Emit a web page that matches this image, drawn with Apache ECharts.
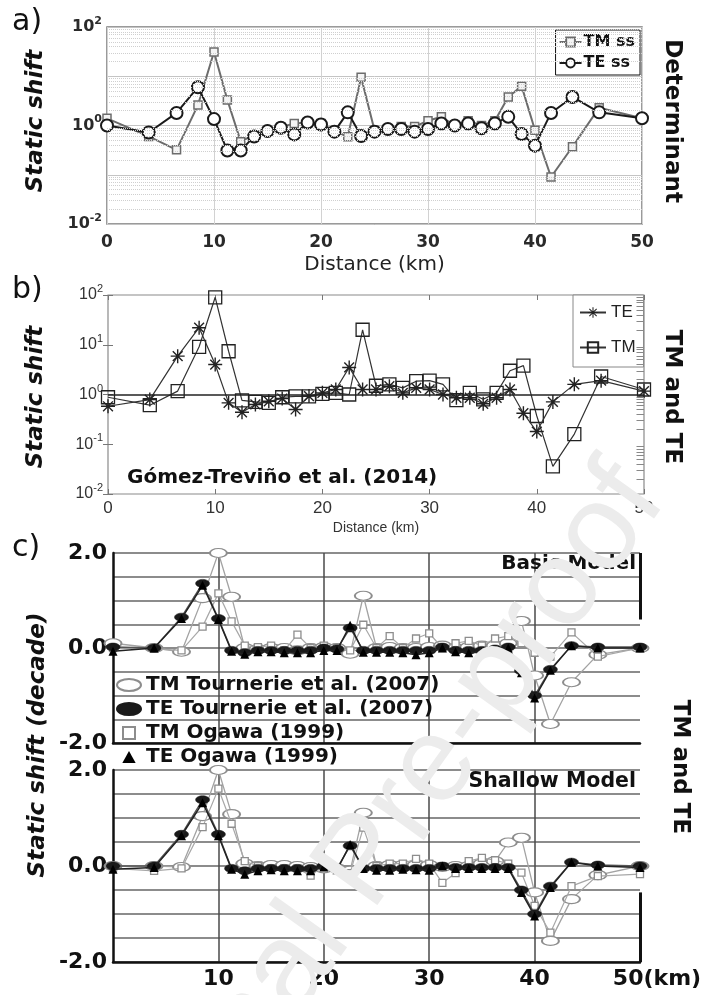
<!DOCTYPE html>
<html>
<head>
<meta charset="utf-8">
<script src="https://cdn.jsdelivr.net/npm/echarts@6/dist/echarts.min.js"></script>
<style>
html, body { margin: 0; padding: 0; background: #fff; }
#chart { width: 710px; height: 995px; }
</style>
</head>
<body>
<div id="chart"></div>
<script>
// Station positions along the profile (km)
const distanceKm = [0, 3.9, 6.5, 8.5, 10, 11.25, 12.5, 13.75, 15, 16.25, 17.5, 18.75, 20, 21.25, 22.5, 23.75, 25, 26.25, 27.5, 28.75, 30, 31.25, 32.5, 33.75, 35, 36.25, 37.5, 38.75, 40, 41.5, 43.5, 46, 50];

// a) determinant static shifts
const detTM = [1.4, 0.6, 0.32, 2.6, 31, 3.3, 0.47, 0.65, 0.8, 0.92, 1.1, 1.15, 1.1, 0.78, 0.59, 9.5, 0.8, 0.85, 0.95, 0.95, 1.25, 1.5, 1.0, 1.25, 1.0, 1.25, 3.8, 6.3, 0.8, 0.09, 0.37, 2.3, 1.4];
const detTE = [1.0, 0.72, 1.8, 6.0, 1.35, 0.31, 0.31, 0.6, 0.77, 0.9, 0.66, 1.15, 1.05, 0.75, 1.85, 0.61, 0.75, 0.85, 0.85, 0.75, 0.85, 1.1, 1.0, 1.1, 0.88, 1.1, 1.5, 0.67, 0.39, 1.8, 3.8, 1.85, 1.4];

// b) Gómez-Treviño et al. (2014)
const gtTE = [0.58, 0.79, 5.9, 22, 4.0, 0.68, 0.44, 0.63, 0.73, 0.83, 0.5, 0.93, 1.08, 1.26, 3.5, 1.26, 1.26, 1.47, 1.08, 1.36, 1.26, 1.0, 0.86, 0.86, 0.65, 0.86, 1.26, 0.42, 0.18, 0.71, 1.6, 1.9, 1.17];
const gtTM = [0.88, 0.61, 1.17, 9.1, 90, 7.4, 0.76, 0.71, 0.68, 0.88, 0.92, 0.92, 1.03, 1.08, 1.0, 20, 1.5, 1.6, 1.36, 1.85, 1.9, 1.6, 0.77, 1.08, 0.8, 1.08, 3.0, 3.8, 0.37, 0.036, 0.16, 2.3, 1.26];

// c) static shift in decades, basic model
const basicTMTournerie = [0.1, 0.0, -0.08, 1.05, 2.0, 1.08, 0.0, -0.02, 0.0, 0.0, -0.05, 0.0, 0.02, 0.0, -0.12, 1.1, 0.0, 0.02, 0.0, 0.0, 0.02, 0.05, 0.0, 0.02, 0.05, 0.05, 0.1, 0.57, -0.58, -1.6, -0.72, -0.14, 0.0];
const basicTMOgawa = [0.0, -0.02, -0.05, 0.45, 1.15, 0.56, 0.05, 0.02, 0.05, -0.05, 0.28, 0.0, 0.05, 0.0, -0.05, 0.49, 0.0, 0.25, 0.0, 0.2, 0.31, 0.0, 0.1, 0.15, 0.05, 0.2, 0.25, 0.1, -0.1, -0.18, 0.33, -0.18, 0.0];
const basicTETournerie = [0.02, 0.0, 0.65, 1.36, 0.62, -0.05, -0.1, -0.05, -0.05, -0.05, -0.05, -0.05, 0.0, -0.02, 0.42, -0.05, -0.05, -0.05, -0.05, -0.05, -0.05, 0.02, -0.05, -0.05, -0.05, -0.02, 0.02, -0.48, -1.0, -0.45, 0.05, 0.02, 0.02];
const basicTEOgawa = [-0.07, 0.0, 0.62, 1.32, 0.6, -0.07, -0.13, -0.08, -0.08, -0.1, -0.1, -0.1, -0.05, -0.05, 0.48, -0.09, -0.09, -0.09, -0.1, -0.14, -0.1, 0.0, -0.08, -0.1, -0.09, -0.05, 0.0, -0.52, -1.05, -0.47, 0.05, 0.0, 0.0];

// c) static shift in decades, shallow model
const shallowTMTournerie = [0.0, 0.0, -0.02, 1.04, 2.0, 1.08, 0.05, 0.0, 0.02, 0.02, 0.0, -0.02, -0.05, -0.05, -0.1, 1.11, 0.0, 0.02, 0.02, 0.02, 0.02, -0.02, 0.0, 0.0, 0.05, 0.1, 0.49, 0.59, -0.55, -1.56, -0.69, -0.19, 0.0];
const shallowTMOgawa = [-0.05, -0.1, -0.05, 0.81, 1.61, 0.88, 0.1, 0.0, -0.05, -0.05, -0.05, -0.2, 0.0, -0.05, -0.15, 0.8, 0.0, 0.05, 0.05, 0.15, 0.05, -0.35, -0.15, 0.1, 0.17, 0.12, 0.05, -0.14, -0.83, -1.39, -0.42, -0.21, -0.17];
const shallowTETournerie = [0.0, 0.0, 0.66, 1.38, 0.66, -0.05, -0.1, -0.05, -0.05, -0.05, -0.05, -0.05, 0.0, -0.05, 0.42, -0.05, -0.05, -0.05, -0.05, -0.05, -0.05, 0.0, -0.03, -0.03, -0.03, -0.03, -0.03, -0.5, -1.0, -0.42, 0.08, 0.02, 0.0];
const shallowTEOgawa = [-0.07, -0.03, 0.63, 1.32, 0.63, -0.07, -0.17, -0.1, -0.08, -0.1, -0.1, -0.1, -0.02, -0.08, 0.45, -0.05, -0.09, -0.09, -0.07, -0.08, -0.09, 0.0, -0.05, -0.05, -0.05, -0.05, -0.05, -0.55, -1.04, -0.45, 0.08, 0.0, -0.03];

// tick labels
const decadeExpA = [-2, 0, 2];
const decadeExpB = [-2, -1, 0, 1, 2];
const decadeYLabels = { '2': '2.0', '0': '0.0', '-2': '-2.0' };
const distXLabels = { '10': '10', '20': '20', '30': '30', '40': '40', '50': '{k|50(km)}' };

const FONT = 'DejaVu Sans';
const ARIAL = 'Liberation Sans';
const pts = ys => distanceKm.map((x, i) => [x, ys[i]]);

// minor decade positions (2..9 x 10^e) for the log grids
const minorLog = [];
for (let e = -2; e < 2; e++) for (let k = 2; k <= 9; k++) minorLog.push(+(k * Math.pow(10, e)).toPrecision(2));

const supLabel = (v, shown) => {
  const e = Math.round(Math.log10(v));
  return shown.includes(e) ? '{b|10}{s|' + e + '}' : '';
};

const ELLIPSE = 'path://M-10,0C-10,-2.76,-5.52,-5,0,-5C5.52,-5,10,-2.76,10,0C10,2.76,5.52,5,0,5C-5.52,5,-10,2.76,-10,0Z';
const SQUARE = 'path://M0,0L10,0L10,10L0,10Z';
const TRIANGLE = 'path://M5,0L10,9L0,9Z';
const STAR = 'path://M-1,-10L1,-10L1,10L-1,10Z M-10,-1L10,-1L10,1L-10,1Z M-6.3,-7.7L7.7,6.3L6.3,7.7L-7.7,-6.3Z M6.3,-7.7L7.7,-6.3L-6.3,7.7L-7.7,6.3Z';

const chart = echarts.init(document.getElementById('chart'), null, { renderer: 'canvas' });

function helper(xi, yi, markLine) {
  return {
    type: 'line', xAxisIndex: xi, yAxisIndex: yi, data: [[0, yi <= 2 ? 1 : 0]],
    symbol: 'none', lineStyle: { opacity: 0 }, silent: true, z: 1,
    markLine: Object.assign({ silent: true, symbol: 'none', label: { show: false }, animation: false }, markLine)
  };
}

function modelSeries(xi, yi, tmT, tmO, teT, teO) {
  return [
    { name: 'TM Tournerie et al. (2007)', type: 'line', xAxisIndex: xi, yAxisIndex: yi, data: pts(tmT), z: 3,
      symbol: ELLIPSE, symbolSize: [17, 9], symbolKeepAspect: false,
      lineStyle: { color: '#a3a3a3', width: 1.3 }, itemStyle: { color: '#fff', borderColor: '#8d8d8d', borderWidth: 1.5 } },
    { name: 'TM Ogawa (1999)', type: 'line', xAxisIndex: xi, yAxisIndex: yi, data: pts(tmO), z: 4,
      symbol: 'rect', symbolSize: 7,
      lineStyle: { color: '#a8a8a8', width: 1.2 }, itemStyle: { color: '#fff', borderColor: '#8d8d8d', borderWidth: 1.3 } },
    { name: 'TE Tournerie et al. (2007)', type: 'line', xAxisIndex: xi, yAxisIndex: yi, data: pts(teT), z: 5,
      symbol: ELLIPSE, symbolSize: [14, 8], symbolKeepAspect: false,
      lineStyle: { color: '#555', width: 1.4 }, itemStyle: { color: '#1a1a1a', borderColor: '#1a1a1a', borderWidth: 0.5 } },
    { name: 'TE Ogawa (1999)', type: 'line', xAxisIndex: xi, yAxisIndex: yi, data: pts(teO), z: 6,
      symbol: 'triangle', symbolSize: 9,
      lineStyle: { color: '#222', width: 1.5 }, itemStyle: { color: '#000' } }
  ];
}

const cYAxis = gi => ({
  gridIndex: gi, type: 'value', min: -2, max: 2, interval: 0.5,
  axisLine: { show: true, onZero: false, lineStyle: { color: '#111', width: 2.5 } },
  axisTick: { show: false },
  axisLabel: { formatter: v => decadeYLabels[String(v)] || '', fontFamily: FONT, fontWeight: 'bold', fontSize: 22, color: '#111', margin: 6 },
  splitLine: { show: true, lineStyle: { color: '#8c8c8c', width: 2 } }
});

const cXAxis = (gi, labels) => ({
  gridIndex: gi, type: 'value', min: 0, max: 50, interval: 10,
  axisLine: { show: true, onZero: false, lineStyle: { color: '#111', width: 2.5 } },
  axisTick: { show: false },
  axisLabel: labels ? {
    show: true, fontFamily: FONT, fontWeight: 'bold', fontSize: 22, color: '#111', margin: 6,
    formatter: v => distXLabels[String(v)] || '',
    rich: { k: { fontFamily: FONT, fontWeight: 'bold', fontSize: 22, color: '#111', padding: [0, 0, 0, 34] } }
  } : { show: false },
  splitLine: { show: true, showMinLine: false, showMaxLine: false, lineStyle: { color: '#4a4a4a', width: 1.5 } }
});

const txt = (text, x, y, o) => Object.assign({
  type: 'text', x: x, y: y, z: 50,
  style: Object.assign({ text: text, fontFamily: FONT, fontSize: 22, fill: '#111',
    align: 'center', verticalAlign: 'middle', textAlign: 'center', textVerticalAlign: 'middle' }, o.style || {})
}, o.el || {});

const option = {
  animation: false,
  backgroundColor: '#fff',
  grid: [
    { left: 107, top: 27, width: 535, height: 197, show: true, borderColor: '#7a7a7a', borderWidth: 1.5, backgroundColor: '#fff' },
    { left: 108, top: 295, width: 536, height: 199, show: true, borderColor: '#8a8a8a', borderWidth: 1.2, backgroundColor: '#fff' },
    { left: 113, top: 553, width: 527, height: 190 },
    { left: 113, top: 770, width: 527, height: 192 }
  ],
  xAxis: [
    { gridIndex: 0, type: 'value', min: 0, max: 50, interval: 10,
      axisLine: { show: false }, axisTick: { show: false },
      axisLabel: { fontFamily: FONT, fontWeight: 'bold', fontSize: 17, color: '#2a2a2a', margin: 10 },
      splitLine: { show: true, lineStyle: { color: '#d2d2d2', width: 1 } },
      name: 'Distance (km)', nameLocation: 'middle', nameGap: 31,
      nameTextStyle: { fontFamily: FONT, fontSize: 20, color: '#222' } },
    { gridIndex: 1, type: 'value', min: 0, max: 50, interval: 10,
      axisLine: { show: false }, axisTick: { show: true, inside: true, length: 5, lineStyle: { color: '#777' } },
      axisLabel: { fontFamily: ARIAL, fontSize: 17, color: '#333', margin: 6 },
      splitLine: { show: false },
      name: 'Distance (km)', nameLocation: 'middle', nameGap: 27,
      nameTextStyle: { fontFamily: ARIAL, fontSize: 14, color: '#333' } },
    { gridIndex: 1, type: 'value', position: 'top', min: 0, max: 50, interval: 10,
      axisLine: { show: false }, axisTick: { show: true, inside: true, length: 5, lineStyle: { color: '#777' } },
      axisLabel: { show: false }, splitLine: { show: false } },
    cXAxis(2, false),
    cXAxis(3, true)
  ],
  yAxis: [
    { gridIndex: 0, type: 'log', logBase: 10, min: 0.01, max: 100,
      axisLine: { show: false }, axisTick: { show: false },
      axisLabel: { formatter: v => supLabel(v, decadeExpA), margin: 5,
        rich: { b: { fontFamily: FONT, fontWeight: 'bold', fontSize: 16, color: '#2a2a2a' },
                s: { fontFamily: FONT, fontWeight: 'bold', fontSize: 11, color: '#2a2a2a', padding: [0, 0, 12, 0] } } },
      splitLine: { show: true, lineStyle: { color: '#c4c4c4', width: 1 } } },
    { gridIndex: 1, type: 'log', logBase: 10, min: 0.01, max: 100,
      axisLine: { show: false }, axisTick: { show: true, inside: true, length: 5, lineStyle: { color: '#777' } },
      axisLabel: { formatter: v => supLabel(v, decadeExpB), margin: 5,
        rich: { b: { fontFamily: ARIAL, fontSize: 16, color: '#333' },
                s: { fontFamily: ARIAL, fontSize: 11, color: '#333', padding: [0, 0, 12, 0] } } },
      splitLine: { show: false } },
    { gridIndex: 1, type: 'log', logBase: 10, min: 0.01, max: 100, position: 'right',
      axisLine: { show: false }, axisTick: { show: true, inside: true, length: 5, lineStyle: { color: '#777' } },
      axisLabel: { show: false }, splitLine: { show: false } },
    cYAxis(2),
    cYAxis(3)
  ],
  legend: [
    { data: ['TM ss', 'TE ss'], orient: 'vertical', right: 70, top: 30, itemGap: 5, padding: [4, 5, 4, 3],
      backgroundColor: '#fff', borderColor: '#111', borderWidth: 1, itemWidth: 22, itemHeight: 11,
      textStyle: { fontFamily: FONT, fontWeight: 'bold', fontSize: 16, color: '#111', padding: [0, 0, 0, -3] } },
    { data: ['TE', 'TM'], orient: 'vertical', left: 573, top: 295, itemGap: 18, padding: [9, 8, 11, 6],
      backgroundColor: '#fff', borderColor: '#888', borderWidth: 1, itemWidth: 26, itemHeight: 13,
      textStyle: { fontFamily: ARIAL, fontSize: 17, color: '#222' } },
    { data: [
        { name: 'TM Tournerie et al. (2007)', icon: ELLIPSE },
        { name: 'TE Tournerie et al. (2007)', icon: ELLIPSE },
        { name: 'TM Ogawa (1999)', icon: SQUARE },
        { name: 'TE Ogawa (1999)', icon: TRIANGLE }
      ],
      orient: 'vertical', left: 116, top: 673, itemGap: 0, itemWidth: 24, itemHeight: 12, padding: 0,
      textStyle: { fontFamily: FONT, fontWeight: 'bold', fontSize: 20, color: '#111', lineHeight: 24 } }
  ],
  series: [
    // a) log-grid minor lines
    helper(0, 0, { lineStyle: { color: '#cfcfcf', type: [1, 1], width: 1 }, data: minorLog.map(v => ({ yAxis: v })) }),
    { name: 'TM ss', type: 'line', xAxisIndex: 0, yAxisIndex: 0, data: pts(detTM), z: 3,
      symbol: 'rect', symbolSize: 8,
      lineStyle: { color: '#6c6c6c', width: 2 }, itemStyle: { color: '#f4f4f4', borderColor: '#6c6c6c', borderWidth: 1.5 } },
    { name: 'TE ss', type: 'line', xAxisIndex: 0, yAxisIndex: 0, data: pts(detTE), z: 4,
      symbol: 'circle', symbolSize: 12,
      lineStyle: { color: '#1a1a1a', width: 2 }, itemStyle: { color: '#fff', borderColor: '#1a1a1a', borderWidth: 2 } },

    // b) reference line at unity and right-edge minor ticks
    helper(1, 1, { lineStyle: { color: '#222', type: 'solid', width: 1.5 }, data: [{ yAxis: 1 }] }),
    helper(1, 1, { lineStyle: { color: '#888', type: 'solid', width: 1 },
      data: minorLog.map(v => [{ coord: [49.3, v] }, { coord: [50, v] }]) }),
    { name: 'TE', type: 'line', xAxisIndex: 1, yAxisIndex: 1, data: pts(gtTE), z: 4,
      symbol: STAR, symbolSize: 14,
      lineStyle: { color: '#333', width: 1.2 }, itemStyle: { color: '#222', borderWidth: 0 } },
    { name: 'TM', type: 'line', xAxisIndex: 1, yAxisIndex: 1, data: pts(gtTM), z: 3,
      symbol: 'rect', symbolSize: 13,
      lineStyle: { color: '#333', width: 1.2 }, itemStyle: { color: 'rgba(255,255,255,0)', borderColor: '#222', borderWidth: 1.3 } },

    // c) partial right frame
    helper(3, 3, { lineStyle: { color: '#111', type: 'solid', width: 3 }, data: [[{ coord: [50, 2] }, { coord: [50, 0.6] }]] }),
    helper(4, 4, { lineStyle: { color: '#111', type: 'solid', width: 3 }, data: [[{ coord: [50, -0.55] }, { coord: [50, -2] }]] }),
    ...modelSeries(3, 3, basicTMTournerie, basicTMOgawa, basicTETournerie, basicTEOgawa),
    ...modelSeries(4, 4, shallowTMTournerie, shallowTMOgawa, shallowTETournerie, shallowTEOgawa)
  ],
  graphic: [
    txt('a)', 12, 22, { style: { fontSize: 30, align: 'left', textAlign: 'left' } }),
    txt('b)', 12, 290, { style: { fontSize: 30, align: 'left', textAlign: 'left' } }),
    txt('c)', 12, 548, { style: { fontSize: 30, align: 'left', textAlign: 'left' } }),
    txt('Static shift', 36, 121, { style: { fontWeight: 'bold', fontStyle: 'italic', fontSize: 23 }, el: { rotation: Math.PI / 2 } }),
    txt('Static shift', 36, 397, { style: { fontWeight: 'bold', fontStyle: 'italic', fontSize: 23 }, el: { rotation: Math.PI / 2 } }),
    txt('Static shift (decade)', 38, 745, { style: { fontWeight: 'bold', fontStyle: 'italic', fontSize: 23 }, el: { rotation: Math.PI / 2 } }),
    txt('Determinant', 672, 121, { style: { fontWeight: 'bold', fontSize: 23 }, el: { rotation: -Math.PI / 2 } }),
    txt('TM and TE', 672, 397, { style: { fontWeight: 'bold', fontSize: 23 }, el: { rotation: -Math.PI / 2 } }),
    txt('TM and TE', 680, 767, { style: { fontWeight: 'bold', fontSize: 23 }, el: { rotation: -Math.PI / 2 } }),
    txt('Gómez-Treviño et al. (2014)', 127, 478, { style: { fontWeight: 'bold', fontSize: 20, align: 'left', textAlign: 'left' } }),
    txt('Basic Model', 636, 564, { style: { fontWeight: 'bold', fontSize: 20, align: 'right', textAlign: 'right' } }),
    txt('Shallow Model', 636, 782, { style: { fontWeight: 'bold', fontSize: 20.5, align: 'right', textAlign: 'right' } }),
    // journal watermark
    txt('Journal Pre-proof', 640, 480, { style: { fontFamily: ARIAL, fontSize: 122, fill: '#ececec', align: 'right', textAlign: 'right' },
      el: { rotation: 0.95, z: 100 } })
  ]
};

chart.setOption(option);
</script>
</body>
</html>
